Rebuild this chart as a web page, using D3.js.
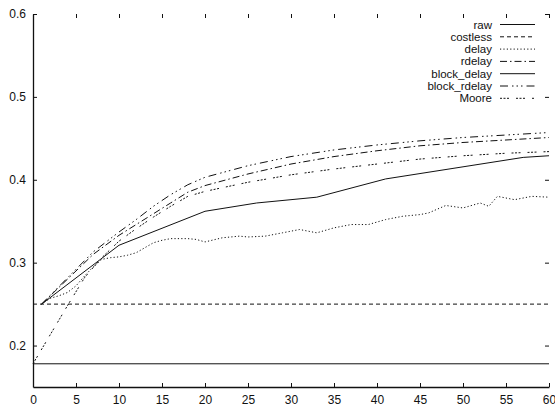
<!DOCTYPE html>
<html>
<head>
<meta charset="utf-8">
<script src="https://cdn.jsdelivr.net/npm/d3@7"></script>
<style>
  body { margin: 0; background: #fff; }
  svg { display: block; font-family: "Liberation Sans", Arial, sans-serif; }
</style>
</head>
<body>
<svg id="canvas" width="555" height="407"></svg>
<script>
// series values
let rawX = [0, 60]
let rawY = [0.178, 0.178]

let costlessX = [0, 60]
let costlessY = [0.25, 0.25]

let delayX = [1, 2, 3, 4, 5, 6, 7, 8, 9, 10, 11, 12, 13, 14, 15, 16, 18, 19, 20, 22, 24, 25, 27, 29, 31, 33, 35, 37, 39, 41, 43, 45, 46, 48, 50, 52, 53, 54, 56, 58, 60]
let delayY = [0.25, 0.257, 0.26, 0.264, 0.272, 0.284, 0.295, 0.304, 0.306, 0.307, 0.309, 0.312, 0.318, 0.324, 0.327, 0.329, 0.329, 0.328, 0.325, 0.33, 0.332, 0.331, 0.332, 0.336, 0.34, 0.336, 0.342, 0.346, 0.346, 0.352, 0.356, 0.358, 0.36, 0.369, 0.366, 0.372, 0.368, 0.38, 0.376, 0.38, 0.379]

let rdelayX = [1, 3, 5, 7, 10, 12, 14, 16, 18, 20, 25, 30, 35, 40, 45, 50, 55, 60]
let rdelayY = [0.25, 0.27, 0.29, 0.31, 0.333, 0.346, 0.359, 0.372, 0.385, 0.393, 0.407, 0.419, 0.428, 0.435, 0.441, 0.445, 0.448, 0.451]

let blockDelayX = [1, 10, 20, 26, 33, 41, 57, 60]
let blockDelayY = [0.25, 0.321, 0.362, 0.372, 0.379, 0.401, 0.427, 0.429]

let blockRdelayX = [1, 3, 5, 7, 10, 12, 14, 16, 18, 20, 25, 30, 35, 40, 45, 50, 55, 60]
let blockRdelayY = [0.25, 0.271, 0.292, 0.313, 0.337, 0.352, 0.368, 0.382, 0.394, 0.403, 0.417, 0.428, 0.436, 0.442, 0.447, 0.451, 0.454, 0.457]

let mooreX = [0, 2, 4, 6, 8, 10, 12, 14, 16, 18, 20, 25, 30, 35, 40, 45, 50, 55, 60]
let mooreY = [0.178, 0.213, 0.248, 0.282, 0.306, 0.326, 0.341, 0.355, 0.368, 0.38, 0.386, 0.397, 0.406, 0.413, 0.419, 0.425, 0.429, 0.432, 0.434]

let seriesNames = ['raw', 'costless', 'delay', 'rdelay', 'block_delay', 'block_rdelay', 'Moore']
let xTicks = [0, 5, 10, 15, 20, 25, 30, 35, 40, 45, 50, 55, 60]
let yTicks = [0.2, 0.3, 0.4, 0.5, 0.6]

let series = [
    { name: 'raw', xs: rawX, ys: rawY, dash: null },
    { name: 'costless', xs: costlessX, ys: costlessY, dash: '4,3' },
    { name: 'delay', xs: delayX, ys: delayY, dash: '1.2,2.2' },
    { name: 'rdelay', xs: rdelayX, ys: rdelayY, dash: '7,3,1.5,3' },
    { name: 'block_delay', xs: blockDelayX, ys: blockDelayY, dash: null },
    { name: 'block_rdelay', xs: blockRdelayX, ys: blockRdelayY, dash: '8,4,1.5,3,1.5,3,1.5,4' },
    { name: 'Moore', xs: mooreX, ys: mooreY, dash: '2,1.5,2,1.5,2,7' }
]

let canvas = d3.select('#canvas')

let plotLeft = 33, plotRight = 549, plotTop = 14, plotBottom = 387

let xScale = d3.scaleLinear().domain([0, 60]).range([plotLeft, plotRight])
let yScale = d3.scaleLinear().domain([0.15, 0.6]).range([plotBottom, plotTop])

let drawAxes = () => {
    // bottom axis, ticks pointing inward
    canvas.append('g')
        .attr('transform', `translate(0,${plotBottom})`)
        .call(d3.axisBottom(xScale).tickValues(xTicks).tickSizeInner(-4).tickSizeOuter(0).tickPadding(8).tickFormat(d3.format('d')))
    // left axis
    canvas.append('g')
        .attr('transform', `translate(${plotLeft},0)`)
        .call(d3.axisLeft(yScale).tickValues(yTicks).tickSizeInner(-4).tickSizeOuter(0).tickPadding(7).tickFormat(d3.format('.1f')))
    // mirrored ticks on top and right, no border line
    canvas.append('g')
        .attr('class', 'mirror')
        .attr('transform', `translate(0,${plotTop})`)
        .call(d3.axisTop(xScale).tickValues(xTicks.slice(1)).tickSizeInner(-4).tickSizeOuter(0).tickFormat(''))
    canvas.append('g')
        .attr('class', 'mirror')
        .attr('transform', `translate(${plotRight},0)`)
        .call(d3.axisRight(yScale).tickValues(yTicks).tickSizeInner(-4).tickSizeOuter(0).tickFormat(''))
    canvas.selectAll('.mirror .domain').remove()

    canvas.selectAll('.tick text')
        .attr('font-size', 12)
        .attr('font-family', '"Liberation Sans", Arial, sans-serif')
        .attr('fill', '#111')
    canvas.selectAll('.domain').attr('stroke', '#111').attr('stroke-width', 1.3)
    canvas.selectAll('.tick line').attr('stroke', '#111').attr('stroke-width', 1)
}

let drawLines = () => {
    let line = d3.line()
        .x((d) => xScale(d[0]))
        .y((d) => yScale(d[1]))

    canvas.selectAll('path.series')
        .data(series)
        .enter()
        .append('path')
        .attr('class', 'series')
        .attr('d', (s) => line(s.xs.map((x, i) => [x, s.ys[i]])))
        .attr('fill', 'none')
        .attr('stroke', '#111')
        .attr('stroke-width', 1)
        .attr('stroke-dasharray', (s) => s.dash)
}

let drawLegend = () => {
    let legend = canvas.append('g')
    series.forEach((s, i) => {
        let y = 24.5 + i * 12.3
        legend.append('text')
            .attr('x', 492)
            .attr('y', y)
            .attr('dy', '0.35em')
            .attr('text-anchor', 'end')
            .attr('font-size', 11.5)
            .attr('fill', '#111')
            .text(seriesNames[i])
        legend.append('line')
            .attr('x1', 500)
            .attr('x2', 535)
            .attr('y1', y)
            .attr('y2', y)
            .attr('stroke', '#111')
            .attr('stroke-width', 1)
            .attr('stroke-dasharray', s.dash)
    })
}

drawAxes()
drawLines()
drawLegend()
</script>
</body>
</html>
